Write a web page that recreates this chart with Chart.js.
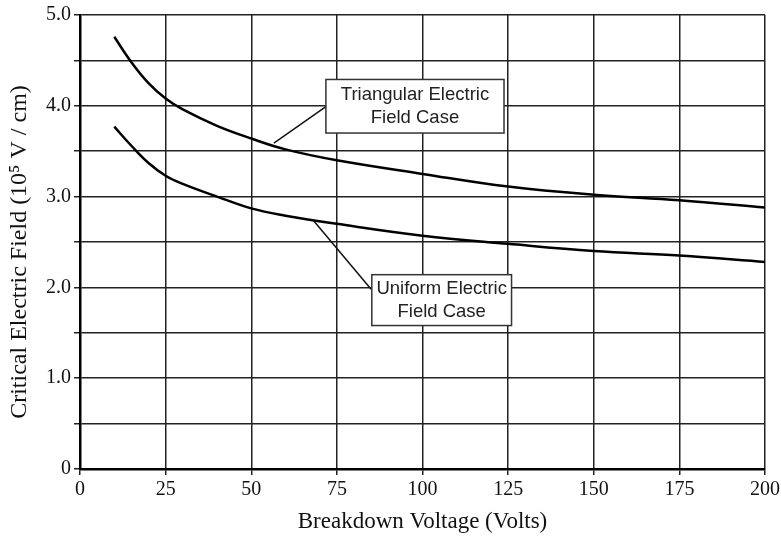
<!DOCTYPE html>
<html>
<head>
<meta charset="utf-8">
<script src="https://cdn.jsdelivr.net/npm/chart.js@4/dist/chart.umd.min.js"></script>
<style>
  html, body { margin: 0; padding: 0; background: #fff; }
  #wrap { width: 781px; height: 536px; }
</style>
</head>
<body>
<div id="wrap"><canvas id="fieldChart"></canvas></div>
<script>
// values
const triVoltage = [10, 15, 20, 25, 30, 40, 50, 60, 75, 100, 125, 150, 175, 200];
const triField = [4.76, 4.48, 4.25, 4.08, 3.96, 3.78, 3.64, 3.52, 3.40, 3.25, 3.11, 3.02, 2.96, 2.88];

const uniVoltage = [10, 15, 20, 25, 30, 40, 50, 60, 75, 100, 125, 150, 175, 200];
const uniField = [3.77, 3.56, 3.37, 3.23, 3.14, 3.00, 2.87, 2.79, 2.70, 2.57, 2.48, 2.40, 2.35, 2.28];

const xTicks = [0, 25, 50, 75, 100, 125, 150, 175, 200];
const yTickLabels = { 0: "0", 1: "1.0", 2: "2.0", 3: "3.0", 4: "4.0", 5: "5.0" };

// callout boxes, in data units: box corners and the leader line
const callouts = [
    {
        lines: ["Triangular Electric", "Field Case"],
        box: { x1: 71.8, x2: 123.8, y1: 3.70, y2: 4.29 },
        leader: { fromX: 71.8, fromY: 3.99, toX: 56.6, toY: 3.59 },
    },
    {
        lines: ["Uniform Electric", "Field Case"],
        box: { x1: 85.2, x2: 126.0, y1: 1.58, y2: 2.14 },
        leader: { fromX: 85.0, fromY: 1.98, toX: 68.1, toY: 2.74 },
    },
];

const serif = "'Liberation Serif', 'Times New Roman', serif";

const calloutPlugin = {
    id: "callouts",
    afterDatasetsDraw(chart) {
        const { ctx, scales } = chart;
        const xs = scales.x, ys = scales.y;
        ctx.save();
        callouts.forEach((c) => {
            ctx.strokeStyle = "#111";
            ctx.lineWidth = 1.5;
            ctx.beginPath();
            ctx.moveTo(xs.getPixelForValue(c.leader.fromX), ys.getPixelForValue(c.leader.fromY));
            ctx.lineTo(xs.getPixelForValue(c.leader.toX), ys.getPixelForValue(c.leader.toY));
            ctx.stroke();

            const left = xs.getPixelForValue(c.box.x1);
            const right = xs.getPixelForValue(c.box.x2);
            const top = ys.getPixelForValue(c.box.y2);
            const bottom = ys.getPixelForValue(c.box.y1);
            ctx.fillStyle = "#fff";
            ctx.fillRect(left, top, right - left, bottom - top);
            ctx.strokeStyle = "#333";
            ctx.lineWidth = 1.5;
            ctx.strokeRect(left, top, right - left, bottom - top);

            ctx.fillStyle = "#222";
            ctx.font = "18.5px 'Liberation Sans', Arial, sans-serif";
            ctx.textAlign = "center";
            ctx.textBaseline = "middle";
            const cx = (left + right) / 2;
            const cy = (top + bottom) / 2;
            ctx.fillText(c.lines[0], cx, cy - 11.5);
            ctx.fillText(c.lines[1], cx, cy + 11.5);
        });

        // y axis title, drawn by hand so it can sit off-centre like the original
        ctx.fillStyle = "#111";
        ctx.font = "24px " + serif;
        ctx.textAlign = "center";
        ctx.textBaseline = "middle";
        ctx.translate(20, 252);
        ctx.rotate(-Math.PI / 2);
        ctx.fillText("Critical Electric Field (10\u2075 V / cm)", 0, 0);
        ctx.restore();
    },
};

new Chart(document.getElementById("fieldChart"), {
    type: "line",
    data: {
        datasets: [
            {
                label: "Triangular Electric Field Case",
                data: triVoltage.map((v, i) => ({ x: v, y: triField[i] })),
                borderColor: "#000",
                borderWidth: 2.5,
                pointRadius: 0,
                tension: 0.4,
                fill: false,
            },
            {
                label: "Uniform Electric Field Case",
                data: uniVoltage.map((v, i) => ({ x: v, y: uniField[i] })),
                borderColor: "#000",
                borderWidth: 2.5,
                pointRadius: 0,
                tension: 0.4,
                fill: false,
            },
        ],
    },
    plugins: [calloutPlugin],
    options: {
        responsive: true,
        maintainAspectRatio: false,
        animation: false,
        layout: { padding: { top: 13, right: 16, left: 0, bottom: 0 } },
        plugins: {
            legend: { display: false },
            tooltip: { enabled: false },
        },
        scales: {
            x: {
                type: "linear",
                min: 0,
                max: 200,
                afterBuildTicks: (scale) => {
                    scale.ticks = xTicks.map((v) => ({ value: v }));
                },
                afterFit: (scale) => {
                    scale.height = 67;
                    scale.paddingRight = 0;
                    scale.paddingLeft = 0;
                },
                grid: { color: "#222", lineWidth: 1.5, tickLength: 6 },
                border: { color: "#000", width: 2.5 },
                ticks: {
                    color: "#111",
                    font: { family: serif, size: 20 },
                    padding: 3,
                    maxRotation: 0,
                },
                title: {
                    display: true,
                    text: "Breakdown Voltage (Volts)",
                    color: "#111",
                    font: { family: serif, size: 23 },
                    padding: { top: 0, bottom: 0 },
                },
            },
            y: {
                min: 0,
                max: 5,
                afterFit: (scale) => { scale.width = 80; },
                grid: { color: "#222", lineWidth: 1.5, tickLength: 6 },
                border: { color: "#000", width: 2.5 },
                ticks: {
                    stepSize: 0.5,
                    color: "#111",
                    font: { family: serif, size: 20 },
                    padding: 3,
                    callback: (v) => (v in yTickLabels ? yTickLabels[v] : ""),
                },
            },
        },
    },
});
</script>
</body>
</html>
